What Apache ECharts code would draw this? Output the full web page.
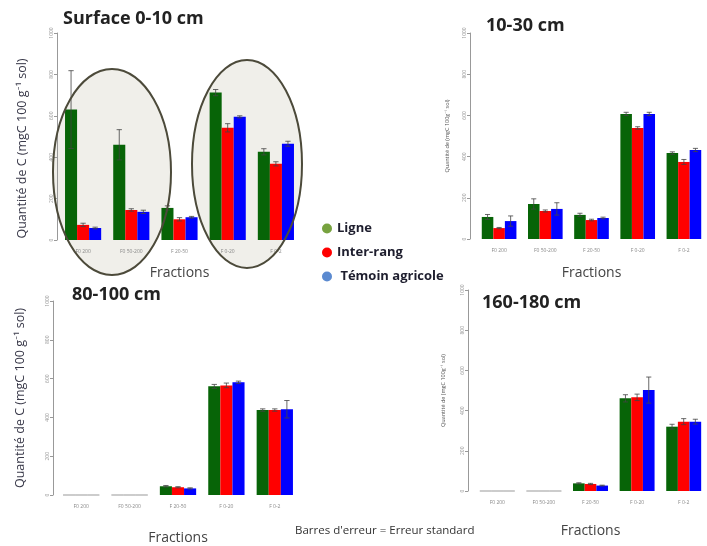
<!DOCTYPE html>
<html><head><meta charset="utf-8">
<script src="https://cdn.jsdelivr.net/npm/echarts@6/dist/echarts.min.js"></script>
<style>html,body{margin:0;padding:0;background:#fff}#c{width:707px;height:546px}</style>
</head><body><div id="c"></div>
<script>
const fractions = ['F0 200', 'F0 50-200', 'F 20-50', 'F 0-20', 'F 0-2'];
const yTicks = [0, 200, 400, 600, 800, 1000];
const seriesNames = ['Ligne', 'Inter-rang', 'Témoin agricole'];
const panelTitles = ['Surface 0-10 cm', '10-30 cm', '80-100 cm', '160-180 cm'];

// Panel 1: Surface 0-10 cm
const p1Ligne = [630, 460, 155, 712, 426];
const p1Inter = [73, 145, 100, 542, 368];
const p1Temoin = [58, 136, 110, 595, 465];
const p1LigneErr = [188, 73, 10, 15, 15];
const p1InterErr = [8, 6, 8, 20, 10];
const p1TemoinErr = [4, 8, 4, 5, 12];

// Panel 2: 10-30 cm
const p2Ligne = [107, 170, 117, 607, 417];
const p2Inter = [53, 136, 92, 539, 374];
const p2Temoin = [87, 146, 102, 607, 432];
const p2LigneErr = [12, 25, 8, 8, 6];
const p2InterErr = [3, 5, 4, 6, 12];
const p2TemoinErr = [25, 30, 4, 8, 8];

// Panel 3: 80-100 cm
const p3Ligne = [0, 0, 45, 560, 438];
const p3Inter = [0, 0, 40, 565, 438];
const p3Temoin = [0, 0, 34, 581, 442];
const p3LigneErr = [0, 0, 4, 10, 6];
const p3InterErr = [0, 0, 3, 12, 6];
const p3TemoinErr = [0, 0, 3, 6, 45];

// Panel 4: 160-180 cm
const p4Ligne = [0, 0, 38, 461, 320];
const p4Inter = [0, 0, 35, 466, 345];
const p4Temoin = [0, 0, 27, 502, 345];
const p4LigneErr = [0, 0, 3, 18, 12];
const p4InterErr = [0, 0, 3, 16, 15];
const p4TemoinErr = [0, 0, 2, 65, 12];

const panels = [
  {vals: [p1Ligne, p1Inter, p1Temoin], errs: [p1LigneErr, p1InterErr, p1TemoinErr]},
  {vals: [p2Ligne, p2Inter, p2Temoin], errs: [p2LigneErr, p2InterErr, p2TemoinErr]},
  {vals: [p3Ligne, p3Inter, p3Temoin], errs: [p3LigneErr, p3InterErr, p3TemoinErr]},
  {vals: [p4Ligne, p4Inter, p4Temoin], errs: [p4LigneErr, p4InterErr, p4TemoinErr]}
];

const barColors = ['#076407', '#ff0000', '#0000ff'];
const legendColors = ['#77a23f', '#ff0000', '#5b8ad0'];
const CAT_GAP = 0.25;
const FONT = 'Open Sans, Lato, sans-serif';

const grids = [
  {left: 59, top: 33, width: 241, height: 207, yOffset: 2, bigName: true, nameGap: 28, namePad: [0, 24, 0, 0], xNameGap: 26},
  {left: 476, top: 33, width: 239, height: 206, yOffset: 6, bigName: false, nameGap: 20, namePad: [0, 0, 0, 0], xNameGap: 27},
  {left: 57, top: 301, width: 242, height: 206, yOffset: 4, bigName: true, nameGap: 26, namePad: [0, 0, 0, 0], xNameGap: 36},
  {left: 474, top: 290, width: 236, height: 201, yOffset: 6, bigName: false, nameGap: 22, namePad: [0, 0, 0, 0], xNameGap: 33}
];

const bigYName = 'Quantité de C (mgC 100 g⁻¹ sol)';
const smallYName = 'Quantité de (mgC 100g⁻¹ sol)';

const option = {
  backgroundColor: '#ffffff',
  animation: false,
  textStyle: {fontFamily: FONT},
  title: [
    {text: panelTitles[0], left: 63, top: 10},
    {text: panelTitles[1], left: 486, top: 17},
    {text: panelTitles[2], left: 72, top: 286},
    {text: panelTitles[3], left: 482, top: 294}
  ].map(t => Object.assign(t, {padding: 0, textStyle: {fontSize: 18, fontWeight: 'bold', color: '#222', fontFamily: FONT}})),
  legend: {
    orient: 'vertical', left: 322, top: 222, padding: 0, itemGap: 11, itemWidth: 10, itemHeight: 10,
    icon: 'circle', selectedMode: false,
    formatter: n => n === 'Témoin agricole' ? ' ' + n : n,
    textStyle: {fontSize: 13, fontWeight: 'bold', color: '#1e1e2e', fontFamily: FONT},
    data: seriesNames.map((n, i) => ({name: n, itemStyle: {color: legendColors[i]}}))
  },
  grid: grids.map(g => ({left: g.left, top: g.top, width: g.width, height: g.height, containLabel: false})),
  xAxis: grids.map((g, i) => ({
    type: 'category', gridIndex: i, data: fractions,
    axisLine: {show: false}, axisTick: {show: false},
    axisLabel: {fontSize: 5, color: '#888', margin: 9, interval: 0},
    name: 'Fractions', nameLocation: 'middle', nameGap: g.xNameGap,
    nameTextStyle: {fontSize: 14, color: '#444', fontFamily: FONT}
  })),
  yAxis: grids.map((g, i) => ({
    type: 'value', gridIndex: i, min: yTicks[0], max: yTicks[yTicks.length - 1], interval: yTicks[1] - yTicks[0],
    offset: g.yOffset,
    splitLine: {show: false},
    axisLine: {show: true, lineStyle: {color: '#999', width: 1}},
    axisTick: {show: true, length: 3, lineStyle: {color: '#999'}},
    axisLabel: {fontSize: 5, color: '#999', rotate: 90, margin: 3, formatter: v => String(v)},
    name: g.bigName ? bigYName : smallYName,
    nameLocation: 'middle', nameGap: g.nameGap, nameRotate: 90,
    nameTextStyle: g.bigName ? {fontSize: 12.5, color: '#3a3a4a', fontFamily: FONT, padding: g.namePad}
                             : {fontSize: 5.5, color: '#555', fontFamily: FONT, padding: g.namePad}
  })),
  series: [],
  graphic: []
};

panels.forEach((p, pi) => {
  p.vals.forEach((arr, si) => {
    option.series.push({
      type: 'bar', name: seriesNames[si], xAxisIndex: pi, yAxisIndex: pi,
      barGap: '0%', barCategoryGap: (CAT_GAP * 100) + '%',
      itemStyle: {color: barColors[si]},
      data: arr.map(v => v === 0 ? {value: 0, itemStyle: {borderColor: '#bbb', borderWidth: 1}} : v),
      z: 3
    });
  });
  const errData = [];
  p.vals.forEach((arr, si) => arr.forEach((v, ci) => {
    if (p.errs[si][ci] > 0) errData.push([ci, v, p.errs[si][ci], si]);
  }));
  option.series.push({
    type: 'custom', xAxisIndex: pi, yAxisIndex: pi, z: 5,
    encode: {x: 0, y: 1},
    data: errData,
    renderItem: function (params, api) {
      const ci = api.value(0), v = api.value(1), e = api.value(2), si = api.value(3);
      const band = api.size([1, 0])[0];
      const bw = band * (1 - CAT_GAP) / 3;
      const cx = api.coord([ci, v])[0] + (si - 1) * bw;
      const yT = api.coord([ci, v + e])[1];
      const yB = api.coord([ci, Math.max(0, v - e)])[1];
      const cap = bw * 0.22;
      const st = {stroke: '#444', lineWidth: 1, opacity: 0.8};
      return {type: 'group', children: [
        {type: 'line', shape: {x1: cx, y1: yT, x2: cx, y2: yB}, style: st},
        {type: 'line', shape: {x1: cx - cap, y1: yT, x2: cx + cap, y2: yT}, style: st},
        {type: 'line', shape: {x1: cx - cap, y1: yB, x2: cx + cap, y2: yB}, style: st}
      ]};
    }
  });
});

// Highlight ellipses (annotations) in the surface panel
const ellipses = [{cx: 112, cy: 172, rx: 59, ry: 103}, {cx: 247, cy: 164, rx: 55, ry: 104}];
ellipses.forEach(e => {
  option.graphic.push({type: 'ellipse', shape: e, style: {fill: '#f0efea', stroke: null}, z: -1, silent: true});
  option.graphic.push({type: 'ellipse', shape: e, style: {fill: null, stroke: '#4c4a3a', lineWidth: 2}, z: 50, silent: true});
});
option.graphic.push({type: 'text', left: 295, top: 525, style: {text: "Barres d'erreur = Erreur standard", fontSize: 11.5, fill: '#333', fontFamily: FONT}, z: 50});

const chart = echarts.init(document.getElementById('c'), null, {renderer: 'canvas'});
chart.setOption(option);
</script></body></html>
